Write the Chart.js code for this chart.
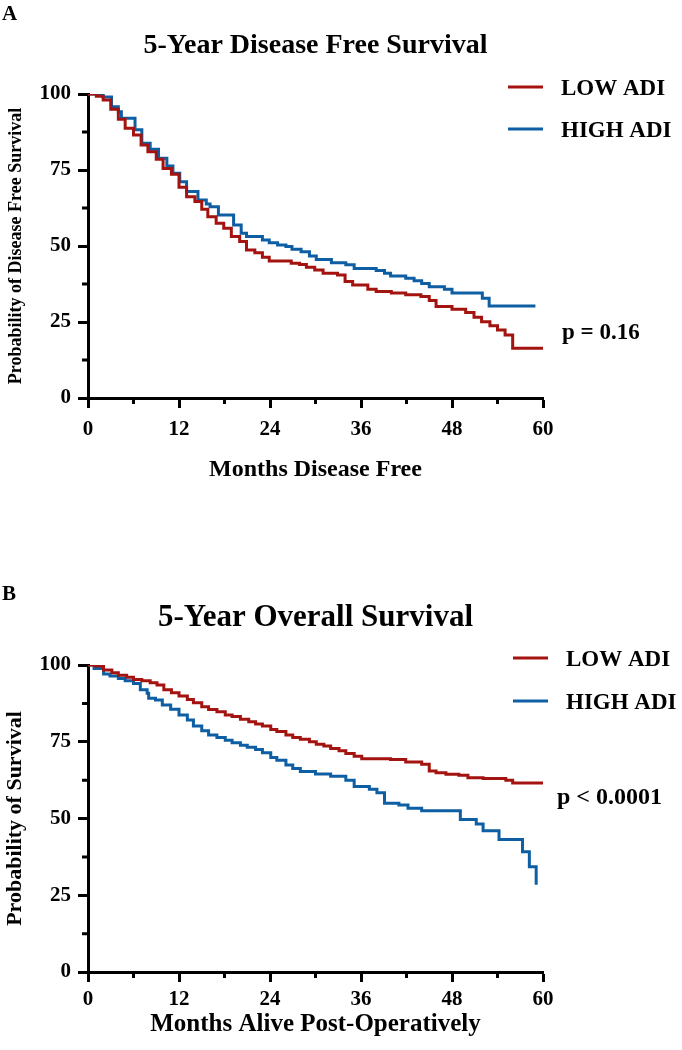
<!DOCTYPE html>
<html>
<head>
<meta charset="utf-8">
<script src="https://cdn.jsdelivr.net/npm/chart.js@4"></script>
<style>
  html, body { margin: 0; padding: 0; background: #fff; }
  .panel { position: absolute; left: 0; width: 682px; height: 525px; }
</style>
</head>
<body>
<div class="panel" style="top:0"><canvas id="dfs" width="682" height="525"></canvas></div>
<div class="panel" style="top:525px"><canvas id="os" width="682" height="525"></canvas></div>
<script>
//AXES
const monthTicks = [0, 12, 24, 36, 48, 60];
const monthMinor = [6, 18, 30, 42, 54];
const survTicks  = [0, 25, 50, 75, 100];
const survMinor  = [12.5, 37.5, 62.5, 87.5];
const groupNames = ['LOW ADI', 'HIGH ADI'];

//DATA__DFS (panel A)
const dfsLowMonths  = [0, 1.1, 2.0, 3.0, 4.0, 4.9, 6.0, 7.0, 7.9, 9.0, 9.9, 11.0, 12.0, 13.0, 14.1, 15.0, 15.8, 16.9, 17.9, 18.9, 20.0, 20.9, 22.0, 23.0, 23.9, 26.8, 27.9, 28.8, 29.9, 31.0, 32.9, 33.9, 34.9, 36.9, 38.0, 40.0, 41.9, 43.9, 45.0, 45.9, 48.0, 49.8, 50.9, 51.9, 53.0, 54.0, 55.0, 56.0, 60];
const dfsLowSurv    = [100, 99.3, 98.0, 95.0, 91.7, 88.7, 86.5, 83.2, 81.0, 78.5, 75.5, 73.6, 69.3, 66.2, 64.6, 62.1, 59.6, 57.5, 55.8, 53.1, 51.5, 48.7, 47.8, 46.3, 45.1, 44.3, 43.9, 43.0, 42.1, 41.0, 40.5, 38.3, 37.2, 35.8, 35.0, 34.5, 34.0, 33.4, 32.1, 30.1, 29.2, 28.1, 26.6, 25.1, 23.8, 22.4, 20.7, 16.4, 16.4];
const dfsHighMonths = [0, 2.0, 3.1, 4.0, 4.4, 6.2, 7.1, 8.2, 9.3, 10.4, 11.2, 12.1, 13.0, 14.5, 15.6, 16.1, 17.2, 19.2, 20.2, 20.9, 23.0, 23.9, 25.0, 26.1, 26.9, 28.1, 29.2, 30.1, 32.1, 34.0, 35.1, 38.0, 39.1, 39.9, 41.9, 43.0, 44.0, 45.0, 47.0, 48.0, 52.0, 52.9, 59.0];
const dfsHighSurv   = [100, 99.0, 95.8, 94.2, 92.0, 88.2, 83.8, 81.8, 78.9, 76.3, 73.9, 71.1, 67.9, 65.1, 63.8, 62.9, 60.2, 56.9, 54.2, 53.1, 52.0, 51.1, 50.3, 49.8, 48.9, 48.1, 46.7, 45.6, 44.5, 43.8, 42.6, 41.9, 41.0, 40.1, 39.4, 38.6, 37.7, 36.6, 35.8, 34.5, 32.8, 30.3, 30.3];

//DATA__OS (panel B)
const osLowMonths   = [0, 0.95, 2.05, 3.15, 4.0, 5.1, 6.0, 7.1, 8.2, 9.1, 10.0, 11.0, 12.0, 13.1, 13.9, 15.0, 15.9, 17.0, 18.1, 19.0, 20.1, 21.2, 22.1, 23.0, 24.1, 24.9, 26.1, 27.0, 28.0, 29.2, 30.1, 31.1, 32.0, 33.1, 34.0, 35.1, 36.1, 39.9, 41.9, 44.0, 45.0, 45.9, 47.2, 48.9, 50.1, 52.1, 55.1, 56.0, 60];
const osLowSurv     = [100, 99.7, 98.4, 97.5, 96.7, 96.0, 95.3, 94.9, 94.2, 93.5, 91.9, 91.0, 89.9, 88.8, 87.7, 86.4, 85.5, 84.8, 83.7, 83.2, 82.3, 81.5, 80.8, 80.1, 79.0, 78.3, 77.2, 76.4, 75.8, 75.0, 74.2, 73.6, 72.8, 72.1, 71.2, 70.3, 69.5, 69.2, 68.4, 67.7, 65.5, 64.9, 64.4, 64.1, 63.3, 63.0, 62.5, 61.6, 61.2];
const osHighMonths  = [0, 0.8, 2.05, 2.9, 4.0, 4.9, 6.0, 6.9, 7.8, 8.0, 8.9, 9.8, 10.9, 12.0, 13.1, 13.9, 15.0, 15.9, 17.0, 18.1, 19.0, 20.1, 21.0, 22.1, 23.0, 24.1, 24.9, 26.1, 27.0, 28.0, 30.0, 32.0, 34.0, 35.1, 37.1, 38.1, 39.1, 41.0, 42.2, 44.0, 49.1, 51.2, 52.1, 54.2, 57.3, 58.2, 59.1];
const osHighSurv    = [100, 98.9, 97.1, 96.4, 95.6, 94.9, 94.0, 91.9, 90.8, 89.2, 88.6, 87.0, 85.6, 83.7, 82.1, 80.1, 78.6, 77.2, 76.4, 75.5, 74.7, 73.9, 73.2, 72.5, 71.4, 69.9, 69.0, 67.4, 66.3, 65.3, 64.5, 63.8, 62.5, 60.4, 59.5, 58.4, 55.0, 54.4, 53.3, 52.5, 49.7, 48.2, 46.0, 43.2, 39.2, 34.3, 28.4];

//STYLE
const RED  = '#a3130f';
const BLUE = '#0d5ea3';
const FONT = '"Liberation Serif", "Times New Roman", serif';

Chart.defaults.font.family = FONT;
Chart.defaults.font.weight = 'bold';
Chart.defaults.color = '#000';

function toPoints(months, surv){
    return months.map((m, i) => ({x: m, y: surv[i]}));
}

// short ticks between the labelled ones
const minorTicks = {
    id: 'minorTicks',
    afterDraw(chart){
        const {ctx, scales: {x, y}} = chart;
        ctx.save();
        ctx.strokeStyle = '#000';
        ctx.lineWidth = 3;
        ctx.beginPath();
        monthMinor.forEach(v => {
            const px = x.getPixelForValue(v);
            ctx.moveTo(px, y.bottom);
            ctx.lineTo(px, y.bottom + 6);
        });
        survMinor.forEach(v => {
            const py = y.getPixelForValue(v);
            ctx.moveTo(x.left, py);
            ctx.lineTo(x.left - 6, py);
        });
        ctx.stroke();
        ctx.restore();
    }
};

// panel letter, legend on the right, p value
const panelNotes = {
    id: 'panelNotes',
    afterDraw(chart, args, opts){
        const ctx = chart.ctx;
        ctx.save();
        ctx.fillStyle = '#000';
        ctx.textBaseline = 'alphabetic';
        ctx.font = 'bold 21px ' + FONT;
        ctx.fillText(opts.letter, 2, opts.letterY);
        ctx.font = 'bold 23px ' + FONT;
        chart.data.datasets.forEach((ds, i) => {
            const y = opts.legendY[i];
            ctx.strokeStyle = ds.borderColor;
            ctx.lineWidth = 3;
            ctx.beginPath();
            ctx.moveTo(opts.legendX, y);
            ctx.lineTo(opts.legendX + 35, y);
            ctx.stroke();
            ctx.fillText(ds.label, opts.legendX + 53, y + 8);
        });
        ctx.font = 'bold ' + opts.pSize + 'px ' + FONT;
        ctx.fillText(opts.pText, opts.pX, opts.pY);
        ctx.restore();
    }
};

function KM_Chart(canvas, c){
    const line = (label, color, months, surv) => ({
        label: label,
        data: toPoints(months, surv),
        borderColor: color,
        backgroundColor: color,
        borderWidth: 3,
        pointRadius: 0,
        stepped: true,
        fill: false
    });
    const config = {
        type: 'line',
        data: {
            datasets: [
                line(groupNames[0], RED, c.lowMonths, c.lowSurv),
                line(groupNames[1], BLUE, c.highMonths, c.highSurv)
            ]
        },
        options: {
            responsive: false,
            animation: false,
            layout: { padding: { top: 0, left: 0, right: 139, bottom: 0 } },
            scales: {
                x: {
                    type: 'linear',
                    min: 0,
                    max: 60,
                    afterBuildTicks: s => { s.ticks = monthTicks.map(v => ({value: v})); },
                    afterFit: s => { s.height = c.xAxisHeight; },
                    border: { color: '#000', width: 3 },
                    grid: { drawOnChartArea: false, color: '#000', tickLength: 10, tickWidth: 3 },
                    ticks: { font: { size: 21, weight: 'bold' }, padding: c.xTickPad, maxRotation: 0 },
                    title: { display: true, text: c.xTitle, font: { size: c.xTitleSize, weight: 'bold' }, padding: { top: 0, bottom: c.xTitlePad } }
                },
                y: {
                    min: 0,
                    max: 100,
                    afterBuildTicks: s => { s.ticks = survTicks.map(v => ({value: v})); },
                    afterFit: s => { s.width = 88; },
                    border: { color: '#000', width: 3 },
                    grid: { drawOnChartArea: false, color: '#000', tickLength: 10, tickWidth: 3 },
                    ticks: { font: { size: 21, weight: 'bold' }, padding: 7 },
                    title: { display: true, text: c.yTitle, font: { size: c.yTitleSize, weight: 'bold' }, padding: { top: c.yTitlePad, bottom: 0 } }
                }
            },
            plugins: {
                legend: { display: false },
                tooltip: { enabled: false },
                title: {
                    display: true,
                    text: c.title,
                    fullSize: false,
                    font: { size: c.titleSize, weight: 'bold', lineHeight: 1.2 },
                    padding: { top: c.titleTop, bottom: c.titleBottom }
                },
                panelNotes: c.notes
            }
        },
        plugins: [minorTicks, panelNotes]
    };
    return new Chart(canvas, config);
}

KM_Chart(document.querySelector('#dfs'), {
    lowMonths: dfsLowMonths, lowSurv: dfsLowSurv,
    highMonths: dfsHighMonths, highSurv: dfsHighSurv,
    title: '5-Year Disease Free Survival', titleSize: 28, titleTop: 29, titleBottom: 31.4,
    xTitle: 'Months Disease Free', xTitleSize: 24, xTitlePad: 41, xTickPad: 9, xAxisHeight: 127,
    yTitle: 'Probability of Disease Free Survival', yTitleSize: 18, yTitlePad: 6,
    notes: { letter: 'A', letterY: 20, legendX: 508, legendY: [87, 129], pText: 'p = 0.16', pX: 562, pY: 339, pSize: 23 }
});

KM_Chart(document.querySelector('#os'), {
    lowMonths: osLowMonths, lowSurv: osLowSurv,
    highMonths: osHighMonths, highSurv: osHighSurv,
    title: '5-Year Overall Survival', titleSize: 31, titleTop: 74, titleBottom: 28.8,
    xTitle: 'Months Alive Post-Operatively', xTitleSize: 25, xTitlePad: 10, xTickPad: 5, xAxisHeight: 78,
    yTitle: 'Probability of Survival', yTitleSize: 22, yTitlePad: 2,
    notes: { letter: 'B', letterY: 75, legendX: 513, legendY: [133, 176], pText: 'p < 0.0001', pX: 557, pY: 279, pSize: 24 }
});
</script>
</body>
</html>
